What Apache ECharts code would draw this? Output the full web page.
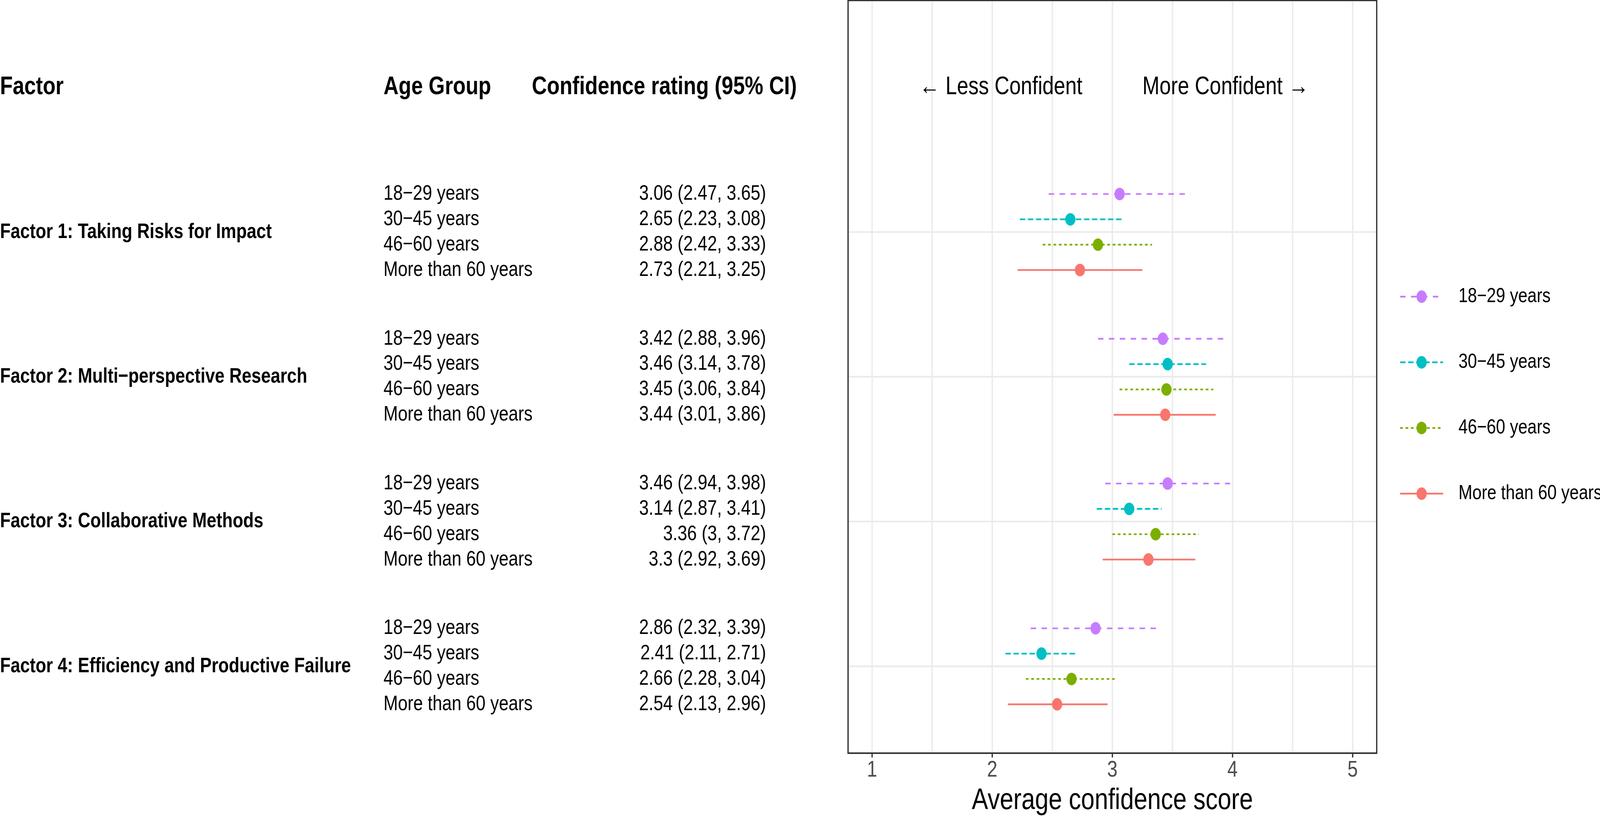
<!DOCTYPE html>
<html>
<head>
<meta charset="utf-8">
<script src="https://cdn.jsdelivr.net/npm/echarts@6/dist/echarts.min.js"></script>
<style>
html,body{margin:0;padding:0;background:#ffffff;overflow:hidden;}
#chart{width:4994px;height:2098px;transform-origin:0 0;}
</style>
</head>
<body>
<div id="chart"></div>
<script>
// ---------------- data ----------------
const factors = [
  "Factor 1: Taking Risks for Impact",
  "Factor 2: Multi\u2212perspective Research",
  "Factor 3: Collaborative Methods",
  "Factor 4: Efficiency and Productive Failure"
];
const ageGroups = ["18\u221229 years", "30\u221245 years", "46\u221260 years", "More than 60 years"];
const headers = ["Factor", "Age Group", "Confidence rating (95% CI)"];

const means18to29 = [3.06, 3.42, 3.46, 2.86];
const lower18to29 = [2.47, 2.88, 2.94, 2.32];
const upper18to29 = [3.65, 3.96, 3.98, 3.39];

const means30to45 = [2.65, 3.46, 3.14, 2.41];
const lower30to45 = [2.23, 3.14, 2.87, 2.11];
const upper30to45 = [3.08, 3.78, 3.41, 2.71];

const means46to60 = [2.88, 3.45, 3.36, 2.66];
const lower46to60 = [2.42, 3.06, 3.00, 2.28];
const upper46to60 = [3.33, 3.84, 3.72, 3.04];

const meansOver60 = [2.73, 3.44, 3.30, 2.54];
const lowerOver60 = [2.21, 3.01, 2.92, 2.13];
const upperOver60 = [3.25, 3.86, 3.69, 2.96];

const xTickValues = [1, 2, 3, 4, 5];
const xGridValues = [1, 1.5, 2, 2.5, 3, 3.5, 4, 4.5, 5];
const factorPositions = [4, 3, 2, 1];
const headerPosition = 5;
const dodgeOffsets = [0.2625, 0.0875, -0.0875, -0.2625];
const annotationTexts = ["\u2190 Less Confident", "More Confident \u2192"];
const annotationX = [2.75, 3.25];

// ---------------- styles / layout ----------------
const groupMeans = [means18to29, means30to45, means46to60, meansOver60];
const groupLower = [lower18to29, lower30to45, lower46to60, lowerOver60];
const groupUpper = [upper18to29, upper30to45, upper46to60, upperOver60];
const colors = ['#C77CFF', '#00BFC4', '#7CAE00', '#F8766D'];
const dashes = [[17, 17], [17, 8], [8.4, 8.4], 'solid'];
const FONT = '"Liberation Sans", Arial, Helvetica, sans-serif';
const X_MIN = 0.8, X_MAX = 5.2, Y_MIN = 0.4, Y_MAX = 5.6;
const LINE_W = 4.3;
const PANEL_LEFT = 2647, PANEL_TOP = 1, PANEL_W = 1650, PANEL_H = 1926;
const TABLE_W = 2640;
const COL_FACTOR = 0, COL_AGE = 1197, COL_CI_HEADER = 1660, COL_CI_RIGHT = 2391;

// the drawing is laid out on a 4994x2098 board, fitted to the real viewport
const chartDom = document.getElementById('chart');
const fitX = window.innerWidth / 4994, fitY = window.innerHeight / 2098;
chartDom.style.transform = 'scale(' + fitX + ',' + fitY + ')';

// table items
const tableItems = [];
tableItems.push({x: COL_FACTOR, y: headerPosition, text: headers[0], size: 65, weight: 'bold', align: 'left'});
tableItems.push({x: COL_AGE, y: headerPosition, text: headers[1], size: 65, weight: 'bold', align: 'left'});
tableItems.push({x: COL_CI_HEADER, y: headerPosition, text: headers[2], size: 65, weight: 'bold', align: 'left'});
factors.forEach(function (f, i) {
  tableItems.push({x: COL_FACTOR, y: factorPositions[i], text: f, size: 54, weight: 'bold', align: 'left'});
  ageGroups.forEach(function (g, k) {
    const y = factorPositions[i] + dodgeOffsets[k];
    tableItems.push({x: COL_AGE, y: y, text: g, size: 54, weight: 'normal', align: 'left'});
    const ci = String(groupMeans[k][i]) + ' (' + String(groupLower[k][i]) + ', ' + String(groupUpper[k][i]) + ')';
    tableItems.push({x: COL_CI_RIGHT, y: y, text: ci, size: 54, weight: 'normal', align: 'right'});
  });
});

const series = [];

// grid lines (panel background)
series.push({
  type: 'custom', xAxisIndex: 0, yAxisIndex: 0, silent: true, z: 1,
  data: xGridValues.map(function (v) { return [v, Y_MIN]; }),
  renderItem: function (params, api) {
    const v = api.value(0);
    const a = api.coord([v, Y_MIN]), b = api.coord([v, Y_MAX]);
    return {type: 'line', shape: {x1: a[0], y1: a[1], x2: b[0], y2: b[1]},
      style: {stroke: '#EBEBEB', lineWidth: LINE_W}};
  }
});
series.push({
  type: 'custom', xAxisIndex: 0, yAxisIndex: 0, silent: true, z: 1,
  data: factorPositions.map(function (y) { return [X_MIN, y]; }),
  renderItem: function (params, api) {
    const y = api.value(1);
    const a = api.coord([X_MIN, y]), b = api.coord([X_MAX, y]);
    return {type: 'line', shape: {x1: a[0], y1: a[1], x2: b[0], y2: b[1]},
      style: {stroke: '#EBEBEB', lineWidth: LINE_W}};
  }
});

// error bars (line series -> also provide legend icons)
ageGroups.forEach(function (g, k) {
  const data = [];
  factors.forEach(function (f, i) {
    const y = factorPositions[i] + dodgeOffsets[k];
    data.push([groupLower[k][i], y]);
    data.push([groupUpper[k][i], y]);
    data.push(['-', '-']);
  });
  series.push({
    name: g, type: 'line', xAxisIndex: 0, yAxisIndex: 0, z: 3,
    data: data, connectNulls: false, showSymbol: false,
    symbol: 'circle', symbolSize: 32, silent: true,
    itemStyle: {color: colors[k]},
    lineStyle: {color: colors[k], width: LINE_W, type: dashes[k]},
    emphasis: {disabled: true}
  });
});

// points
ageGroups.forEach(function (g, k) {
  series.push({
    name: g, type: 'scatter', xAxisIndex: 0, yAxisIndex: 0, z: 4,
    symbol: 'circle', symbolSize: 32, silent: true,
    itemStyle: {color: colors[k], opacity: 1},
    data: factors.map(function (f, i) { return [groupMeans[k][i], factorPositions[i] + dodgeOffsets[k]]; })
  });
});

// annotations in the panel
series.push({
  type: 'custom', xAxisIndex: 0, yAxisIndex: 0, silent: true, z: 5,
  data: annotationX.map(function (x) { return [x, headerPosition]; }),
  renderItem: function (params, api) {
    const p = api.coord([api.value(0), api.value(1)]);
    return {type: 'text', x: p[0], y: p[1], style: {
      text: annotationTexts[params.dataIndex], fontSize: 64, fontFamily: FONT,
      fill: '#000000', align: params.dataIndex === 0 ? 'right' : 'left', verticalAlign: 'middle'}};
  }
});

// table text
series.push({
  type: 'custom', xAxisIndex: 1, yAxisIndex: 1, silent: true, z: 5,
  data: tableItems.map(function (it) { return [it.x, it.y]; }),
  renderItem: function (params, api) {
    const it = tableItems[params.dataIndex];
    const p = api.coord([api.value(0), api.value(1)]);
    return {type: 'text', x: p[0], y: p[1], style: {
      text: it.text, fontSize: it.size, fontWeight: it.weight, fontFamily: FONT,
      fill: '#000000', align: it.align, verticalAlign: 'middle'}};
  }
});

const chart = echarts.init(chartDom, null, {renderer: 'canvas', width: 4994, height: 2098});
chart.setOption({
  animation: false,
  backgroundColor: '#ffffff',
  textStyle: {fontFamily: FONT},
  grid: [
    {left: PANEL_LEFT, top: PANEL_TOP, width: PANEL_W, height: PANEL_H, show: true,
     borderColor: '#333333', borderWidth: 4, backgroundColor: 'transparent', z: 10},
    {left: 0, top: PANEL_TOP, width: TABLE_W, height: PANEL_H, show: false}
  ],
  xAxis: [
    {gridIndex: 0, type: 'value', min: X_MIN, max: X_MAX,
     axisLine: {show: false},
     axisTick: {show: true, length: 11, customValues: xTickValues, lineStyle: {color: '#333333', width: 4}},
     axisLabel: {show: true, customValues: xTickValues, fontSize: 58, color: '#4D4D4D', margin: 15, fontFamily: FONT},
     splitLine: {show: false},
     name: 'Average confidence score', nameLocation: 'middle', nameGap: 84,
     nameTextStyle: {fontSize: 76, color: '#000000', fontFamily: FONT}},
    {gridIndex: 1, type: 'value', min: 0, max: TABLE_W, show: false}
  ],
  yAxis: [
    {gridIndex: 0, type: 'value', min: Y_MIN, max: Y_MAX, show: false, splitLine: {show: false}},
    {gridIndex: 1, type: 'value', min: Y_MIN, max: Y_MAX, show: false, splitLine: {show: false}}
  ],
  legend: {
    data: ageGroups.map(function (g, k) {
      return {name: g, itemStyle: {color: colors[k]},
        lineStyle: {color: colors[k], width: LINE_W, type: dashes[k]}};
    }),
    orient: 'vertical', left: 4368, top: 733, padding: 0,
    itemWidth: 134, itemHeight: 40, itemGap: 116,
    textStyle: {fontSize: 52, color: '#000000', fontFamily: FONT, padding: [0, 0, 0, 43]},
    selectedMode: false
  },
  series: series
});
</script>
</body>
</html>
